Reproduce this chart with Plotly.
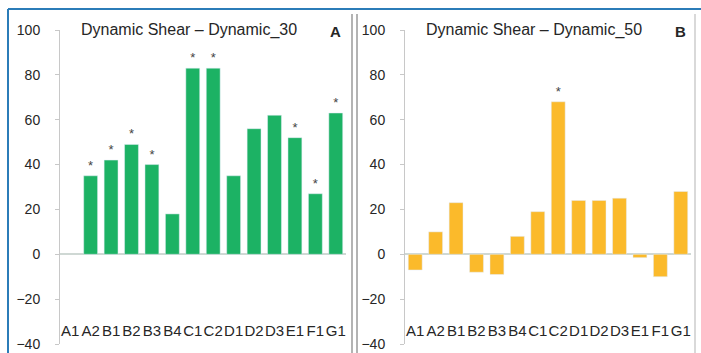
import plotly.graph_objects as go

categories = ["A1", "A2", "B1", "B2", "B3", "B4", "C1", "C2", "D1", "D2", "D3", "E1", "F1", "G1"]
values_30 = [None, 35, 42, 49, 40, 18, 83, 83, 35, 56, 62, 52, 27, 63]
stars_30 = ["", "*", "*", "*", "*", "", "*", "*", "", "", "", "*", "*", "*"]
values_50 = [-7, 10, 23, -8, -9, 8, 19, 68, 24, 24, 25, -1.5, -10, 28]
stars_50 = ["", "", "", "", "", "", "", "*", "", "", "", "", "", ""]
y_ticks = [-40, -20, 0, 20, 40, 60, 80, 100]
titles = ["Dynamic Shear \u2013 Dynamic_30", "Dynamic Shear \u2013 Dynamic_50"]
panel_letters = ["A", "B"]

W, H = 701, 353
GREEN = "#1cb264"
ORANGE = "#fbba2b"
TXT = "#262626"

fig = go.Figure()
fig.add_trace(go.Bar(x=categories, y=values_30, marker_color=GREEN, xaxis="x", yaxis="y",
                     text=stars_30, textposition="outside", cliponaxis=False,
                     textfont=dict(size=13, color="#444444", family="Liberation Sans")))
fig.add_trace(go.Bar(x=categories, y=values_50, marker_color=ORANGE, xaxis="x2", yaxis="y2",
                     text=stars_50, textposition="outside", cliponaxis=False,
                     textfont=dict(size=13, color="#444444", family="Liberation Sans")))

def px_x(p):
    return p / W

def px_y(p):
    return 1 - p / H

ydom = [px_y(344), px_y(30)]
xax = dict(type="category", categoryorder="array", categoryarray=categories,
           range=[-0.5, len(categories) - 0.5], tickangle=0, automargin=False,
           showline=False, showgrid=False, ticks="", anchor="free", position=px_y(320),
           tickfont=dict(size=15, color=TXT, family="Liberation Sans"), fixedrange=True)
yax = dict(range=[-40, 100], tickvals=y_ticks, showgrid=False, showline=True, automargin=False,
           linecolor="#c8c8c8", linewidth=1, ticks="outside", ticklen=4, tickcolor="#c8c8c8",
           zeroline=True, zerolinecolor="#cfd8d4", zerolinewidth=2,
           tickfont=dict(size=14, color=TXT, family="Liberation Sans"),
           ticklabelstandoff=12, ticklabeloverflow="allow", domain=ydom)

fig.update_layout(
    width=W, height=H, margin=dict(l=0, r=0, t=0, b=0),
    paper_bgcolor="white", plot_bgcolor="white", showlegend=False,
    bargap=0.32,
    xaxis=dict(xax, domain=[px_x(60), px_x(346)]),
    yaxis=dict(yax, anchor="x"),
    xaxis2=dict(xax, domain=[px_x(405), px_x(691)]),
    yaxis2=dict(yax, anchor="x2"),
)

for i, (t, letter) in enumerate(zip(titles, panel_letters)):
    xr = "x domain" if i == 0 else "x2 domain"
    yr = "y domain" if i == 0 else "y2 domain"
    fig.add_annotation(text=t, xref=xr, yref=yr, x=0.45, y=1.0, xanchor="center", yanchor="middle",
                       showarrow=False, font=dict(size=16, color=TXT, family="Liberation Sans"))
    fig.add_annotation(text="<b>" + letter + "</b>", xref=xr, yref=yr, x=0.99, y=0.995,
                       xanchor="right", yanchor="middle", showarrow=False,
                       font=dict(size=15, color=TXT, family="Liberation Sans"))

BLUE = "#2b7cb8"
fig.add_shape(type="line", xref="paper", yref="paper", x0=px_x(8), x1=1, y0=px_y(9), y1=px_y(9),
              line=dict(color=BLUE, width=2))
fig.add_shape(type="line", xref="paper", yref="paper", x0=px_x(8), x1=px_x(8), y0=0, y1=px_y(9),
              line=dict(color=BLUE, width=2))
for xp, c in [(352, "#9a9a9a"), (357, "#9a9a9a"), (695, "#cccccc")]:
    fig.add_shape(type="line", xref="paper", yref="paper", x0=px_x(xp), x1=px_x(xp),
                  y0=0, y1=px_y(14), line=dict(color=c, width=1.5))

fig.write_html("out.html")
